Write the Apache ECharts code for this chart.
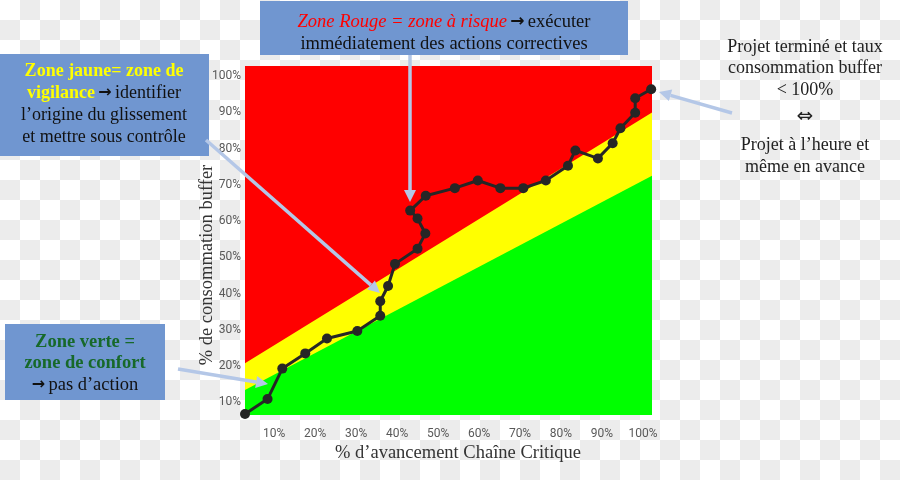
<!DOCTYPE html>
<html>
<head>
<meta charset="utf-8">
<script src="https://cdn.jsdelivr.net/npm/echarts@6/dist/echarts.min.js"></script>
<style>
html,body{margin:0;padding:0;}
body{width:900px;height:480px;background:repeating-conic-gradient(#ececec 0% 25%, #ffffff 0% 50%) 0 0/40px 40px;}
#chart{width:900px;height:480px;}
</style>
</head>
<body>
<div id="chart"></div>
<script>
// Data
const progress = [2.9, 8.4, 12.0, 17.6, 22.9, 30.3, 35.9, 35.9, 37.8, 39.5, 45.0, 46.9, 45.0, 43.2, 47.0, 54.1, 59.7, 65.2, 70.8, 76.3, 81.7, 83.5, 89.0, 92.6, 94.5, 98.1, 98.1, 102.0];
const buffer   = [6.8, 10.9, 19.3, 23.5, 27.6, 29.7, 33.9, 37.9, 42.1, 48.2, 52.4, 56.6, 60.7, 62.9, 67.0, 69.1, 71.2, 69.1, 69.1, 71.2, 75.3, 79.5, 77.3, 81.5, 85.6, 89.9, 93.9, 96.4];
const xRange = [2.9, 102.2];
const yRange = [6.5, 102.8];
const redTop = [102.8, 102.8];
const yellowTop = [20.8, 90.0];
const greenTop = [13.4, 72.5];
const tickValues = [10, 20, 30, 40, 50, 60, 70, 80, 90, 100];

const chart = echarts.init(document.getElementById('chart'), null, {renderer: 'canvas'});

const serif = "'Liberation Serif', 'Times New Roman', serif";
const arrowFont = "'DejaVu Sans', sans-serif";
const arrowColor = '#b4c7e7';
const boxColor = '#7096d0';

function arrow(x1, y1, x2, y2) {
  const dx = x2 - x1, dy = y2 - y1;
  const len = Math.sqrt(dx*dx + dy*dy);
  const ux = dx/len, uy = dy/len;
  const hl = 12, hw = 6;
  const bx = x2 - ux*hl, by = y2 - uy*hl;
  return [
    {type: 'line', shape: {x1: x1, y1: y1, x2: bx, y2: by}, style: {stroke: arrowColor, lineWidth: 3.5}, z: 100},
    {type: 'polygon', shape: {points: [[x2, y2], [bx - uy*hw, by + ux*hw], [bx + uy*hw, by - ux*hw]]}, style: {fill: arrowColor}, z: 100}
  ];
}

function zone(vals) {
  return [[xRange[0], vals[0]], [xRange[1], vals[1]]];
}

function zoneSeries(name, vals, color) {
  return {
    type: 'line', name: name, data: zone(vals), symbol: 'none', silent: true,
    lineStyle: {width: 0, color: color}, itemStyle: {color: color},
    areaStyle: {color: color, opacity: 1, origin: 'start'}
  };
}

function txt(x, y, text, font, fill) {
  return {type: 'text', x: x, y: y, z: 101, style: {text: text, font: font, fill: fill, align: 'center', verticalAlign: 'middle'}};
}

const graphics = [
  // Top box (red zone)
  {type: 'rect', shape: {x: 260, y: 1, width: 368, height: 54}, style: {fill: boxColor}, z: 90},
  {type: 'text', x: 444, y: 22, z: 101, style: {
    text: '{r|Zone Rouge = zone à risque} {a|→} {k|exécuter}',
    align: 'center', verticalAlign: 'middle',
    rich: {
      r: {fontFamily: serif, fontSize: 18.5, fontStyle: 'italic', fill: '#ff0000'},
      a: {fontFamily: arrowFont, fontSize: 17, fontWeight: 'bold', fill: '#111111'},
      k: {fontFamily: serif, fontSize: 18.5, fill: '#111111'}
    }}},
  txt(444, 44, 'immédiatement des actions correctives', '18.5px ' + serif, '#111111'),

  // Yellow box
  {type: 'rect', shape: {x: 0, y: 54, width: 209, height: 102}, style: {fill: boxColor}, z: 90},
  txt(104, 71, 'Zone jaune= zone de', 'bold 18px ' + serif, '#ffff00'),
  {type: 'text', x: 104, y: 93, z: 101, style: {
    text: '{y|vigilance} {a|→} {k|identifier}', align: 'center', verticalAlign: 'middle',
    rich: {
      y: {fontFamily: serif, fontSize: 18, fontWeight: 'bold', fill: '#ffff00'},
      a: {fontFamily: arrowFont, fontSize: 16, fontWeight: 'bold', fill: '#111111'},
      k: {fontFamily: serif, fontSize: 18, fill: '#111111'}
    }}},
  txt(104, 115, 'l’origine du glissement', '18px ' + serif, '#111111'),
  txt(104, 137, 'et mettre sous contrôle', '18px ' + serif, '#111111'),

  // Green box
  {type: 'rect', shape: {x: 5, y: 324, width: 160, height: 76}, style: {fill: boxColor}, z: 90},
  txt(85, 342, 'Zone verte =', 'bold 18.5px ' + serif, '#17692a'),
  txt(85, 363, 'zone de confort', 'bold 18.5px ' + serif, '#17692a'),
  {type: 'text', x: 85, y: 385, z: 101, style: {
    text: '{a|→} {k|pas d’action}', align: 'center', verticalAlign: 'middle',
    rich: {
      a: {fontFamily: arrowFont, fontSize: 16, fontWeight: 'bold', fill: '#111111'},
      k: {fontFamily: serif, fontSize: 18.5, fill: '#111111'}
    }}},

  // Right text
  txt(805, 47, 'Projet terminé et taux', '18px ' + serif, '#222222'),
  txt(805, 68, 'consommation buffer', '18px ' + serif, '#222222'),
  txt(805, 90, '< 100%', '18px ' + serif, '#222222'),
  txt(805, 117, '⇔', '20px ' + arrowFont, '#222222'),
  txt(805, 145, 'Projet à l’heure et', '18px ' + serif, '#222222'),
  txt(805, 167, 'même en avance', '18px ' + serif, '#222222'),

  // Axis titles
  txt(458, 453, '% d’avancement Chaîne Critique', '18.5px ' + serif, '#333333'),
  {type: 'text', x: 207, y: 265, rotation: Math.PI/2, z: 101, style: {text: '% de consommation buffer', font: '18.5px ' + serif, fill: '#333333', align: 'center', verticalAlign: 'middle'}}
]
.concat(arrow(410, 55, 410, 202))
.concat(arrow(206, 140, 380, 293))
.concat(arrow(178, 369, 268, 384))
.concat(arrow(732, 113, 659, 92));

const option = {
  animation: false,
  backgroundColor: 'transparent',
  grid: {left: 245, right: 248, top: 66, bottom: 65, containLabel: false},
  xAxis: {
    type: 'value', min: xRange[0], max: xRange[1],
    axisLine: {show: false}, axisTick: {show: false}, splitLine: {show: false},
    axisLabel: {customValues: tickValues, formatter: v => v + '%', margin: 13,
      fontFamily: "'Liberation Sans Narrow', 'Roboto', sans-serif", fontSize: 12, color: '#595959'}
  },
  yAxis: {
    type: 'value', min: yRange[0], max: yRange[1],
    axisLine: {show: false}, axisTick: {show: false}, splitLine: {show: false},
    axisLabel: {customValues: tickValues, formatter: v => v + '%', margin: 4,
      fontFamily: "'Liberation Sans Narrow', 'Roboto', sans-serif", fontSize: 12, color: '#595959'}
  },
  series: [
    zoneSeries('rouge', redTop, '#ff0000'),
    zoneSeries('jaune', yellowTop, '#ffff00'),
    zoneSeries('verte', greenTop, '#00ff00'),
    {
      type: 'line', name: 'projet',
      data: progress.map((x, i) => [x, buffer[i]]),
      symbol: 'circle', symbolSize: 10, clip: false,
      lineStyle: {color: '#262626', width: 3},
      itemStyle: {color: '#262626'},
      z: 10
    }
  ],
  graphic: graphics
};
chart.setOption(option);
</script>
</body>
</html>
